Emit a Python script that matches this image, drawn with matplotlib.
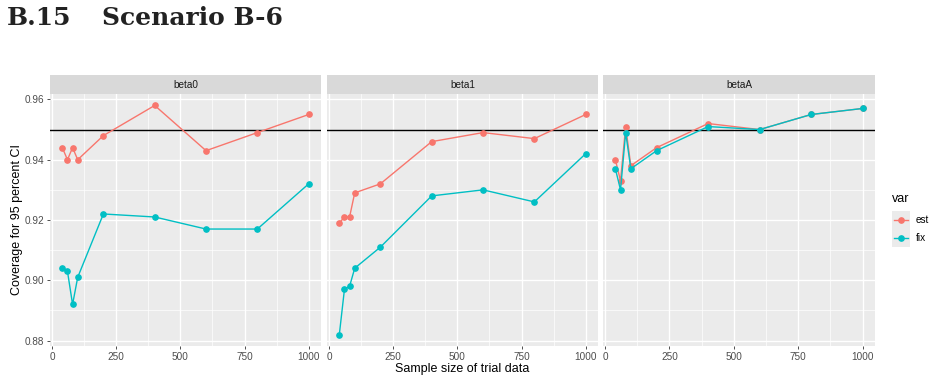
import matplotlib
matplotlib.use("Agg")
import matplotlib.pyplot as plt

sample_sizes = [40, 60, 80, 100, 200, 400, 600, 800, 1000]
panels = ["beta0", "beta1", "betaA"]
series_names = ["est", "fix"]

beta0_est = [0.944, 0.940, 0.944, 0.940, 0.948, 0.958, 0.943, 0.949, 0.955]
beta0_fix = [0.904, 0.903, 0.892, 0.901, 0.922, 0.921, 0.917, 0.917, 0.932]
beta1_est = [0.919, 0.921, 0.921, 0.929, 0.932, 0.946, 0.949, 0.947, 0.955]
beta1_fix = [0.882, 0.897, 0.898, 0.904, 0.911, 0.928, 0.930, 0.926, 0.942]
betaA_est = [0.940, 0.933, 0.951, 0.938, 0.944, 0.952, 0.950, 0.955, 0.957]
betaA_fix = [0.937, 0.930, 0.949, 0.937, 0.943, 0.951, 0.950, 0.955, 0.957]

nominal = 0.95
x_ticks = [0, 250, 500, 750, 1000]
y_ticks = [0.88, 0.90, 0.92, 0.94, 0.96]
x_minor = [125, 375, 625, 875]
y_minor = [0.89, 0.91, 0.93, 0.95]

data = {
    "beta0": {"est": beta0_est, "fix": beta0_fix},
    "beta1": {"est": beta1_est, "fix": beta1_fix},
    "betaA": {"est": betaA_est, "fix": betaA_fix},
}
colors = {"est": "#F8766D", "fix": "#00BFC4"}

plt.rcParams["font.family"] = ["Liberation Sans", "DejaVu Sans"]

W, H = 936, 382
fig = plt.figure(figsize=(W / 100, H / 100), dpi=100)
fig.patch.set_facecolor("white")

def px(x0, y0, x1, y1):
    return [x0 / W, (H - y1) / H, (x1 - x0) / W, (y1 - y0) / H]

fig.text(7 / W, 1 - 18 / H, "B.15", fontsize=18, fontweight="bold",
         family="DejaVu Serif", va="center", ha="left", color="#222222")
fig.text(102 / W, 1 - 18 / H, "Scenario B-6", fontsize=18, fontweight="bold",
         family="DejaVu Serif", va="center", ha="left", color="#222222")

panel_x = [(50, 321), (327, 598), (603, 875)]
ptop, pbot = 94, 346
stop = 75

all_vals = beta0_est + beta0_fix + beta1_est + beta1_fix + betaA_est + betaA_fix
ymin, ymax = min(all_vals), max(all_vals)
yr = ymax - ymin
xmin, xmax = min(sample_sizes), max(sample_sizes)
xr = xmax - xmin

tick_color = "#4D4D4D"
for i, (name, (x0, x1)) in enumerate(zip(panels, panel_x)):
    ax = fig.add_axes(px(x0, ptop, x1, pbot))
    ax.set_facecolor("#EBEBEB")
    for s in ax.spines.values():
        s.set_visible(False)
    ax.set_xlim(xmin - 0.05 * xr, xmax + 0.05 * xr)
    ax.set_ylim(ymin - 0.05 * yr, ymax + 0.05 * yr)
    ax.set_xticks(x_ticks)
    ax.set_yticks(y_ticks)
    ax.set_xticks(x_minor, minor=True)
    ax.set_yticks(y_minor, minor=True)
    ax.grid(which="major", color="white", linewidth=1.0)
    ax.grid(which="minor", color="white", linewidth=0.5)
    ax.set_axisbelow(True)
    ax.tick_params(which="major", length=2.5, width=0.6, color="#333333",
                   labelsize=7.2, labelcolor=tick_color, pad=1.5)
    ax.tick_params(which="minor", length=0)
    ax.set_xticklabels([str(t) for t in x_ticks])
    if i == 0:
        ax.set_yticklabels([f"{t:.2f}" for t in y_ticks])
    else:
        ax.tick_params(axis="y", which="major", length=0, labelleft=False)
    ax.axhline(nominal, color="black", linewidth=1.0, zorder=2)
    for s in series_names:
        ax.plot(sample_sizes, data[name][s], color=colors[s], linewidth=1.0,
                marker="o", markersize=3.8, zorder=3)
    sax = fig.add_axes(px(x0, stop, x1, ptop))
    sax.set_facecolor("#D9D9D9")
    sax.set_xticks([]); sax.set_yticks([])
    for s in sax.spines.values():
        s.set_visible(False)
    sax.text(0.5, 0.5, name, ha="center", va="center", fontsize=7.2, color="#1A1A1A",
             transform=sax.transAxes)

fig.text(17 / W, 1 - 220 / H, "Coverage for 95 percent CI", rotation=90,
         ha="center", va="center", fontsize=9, color="black")
fig.text(462 / W, 1 - 369 / H, "Sample size of trial data", ha="center",
         va="center", fontsize=9, color="black")

# legend
fig.text(892 / W, 1 - 199 / H, "var", ha="left", va="center", fontsize=9, color="black")
lax = fig.add_axes(px(892, 211, 910, 247))
lax.set_facecolor("#EBEBEB")
lax.set_xlim(0, 1); lax.set_ylim(0, 2)
lax.set_xticks([]); lax.set_yticks([])
for s in lax.spines.values():
    s.set_visible(False)
for j, s in enumerate(series_names):
    yy = 1.5 - j
    lax.plot([0.1, 0.9], [yy, yy], color=colors[s], linewidth=1.0)
    lax.plot([0.5], [yy], color=colors[s], marker="o", markersize=3.8)
    fig.text(916 / W, 1 - (220 + 18 * j) / H, s, ha="left", va="center",
             fontsize=7.2, color="black")

fig.savefig("out.png", dpi=100)
